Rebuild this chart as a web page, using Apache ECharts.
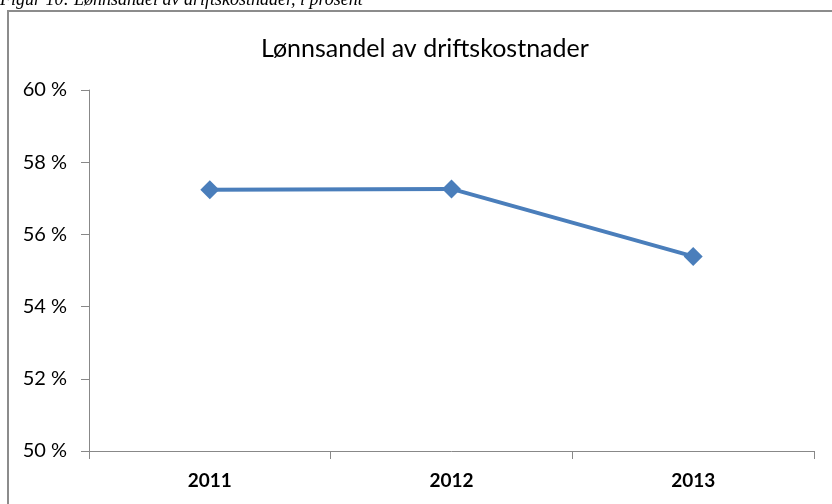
<!DOCTYPE html>
<html>
<head>
    <meta charset="utf-8">
    <title>Lønnsandel av driftskostnader</title>
    <script src="https://cdn.jsdelivr.net/npm/echarts@6/dist/echarts.min.js"></script>
    <style>
        body { margin: 0; background: #fff; }
    </style>
</head>
<body>
<div id="main" style="width: 832px;height:504px;"></div>
<script type="text/javascript">
    // data
    var years = ['2011', '2012', '2013'];
    var lonnsandel = [57.24, 57.26, 55.39];
    var yTicks = [50, 52, 54, 56, 58, 60];

    var myChart = echarts.init(document.getElementById('main'));

    var sans = 'Lato';

    var option = {
        backgroundColor: '#fff',
        animation: false,
        title: {
            text: 'Lønnsandel av driftskostnader',
            left: 256,
            top: 31,
            textStyle: {
                fontFamily: sans,
                fontWeight: 'normal',
                fontSize: 25,
                color: '#000'
            }
        },
        graphic: [
            {
                // caption above the box, cut off at the top edge
                type: 'text',
                left: 0,
                top: -9,
                style: {
                    text: 'Figur 10: Lønnsandel av driftskostnader, i prosent',
                    font: 'italic 18px "Liberation Serif"',
                    fill: '#000'
                }
            },
            {
                type: 'rect',
                shape: { x: 8, y: 11, width: 840, height: 520 },
                style: { fill: 'none', stroke: '#8c8c8c', lineWidth: 2 }
            }
        ],
        grid: {
            left: 89,
            right: 18,
            top: 90,
            bottom: 53
        },
        xAxis: {
            type: 'category',
            data: years,
            boundaryGap: true,
            axisLine: { lineStyle: { color: '#888', width: 1 } },
            axisTick: { show: true, length: 8, lineStyle: { color: '#888' } },
            axisLabel: {
                margin: 20,
                fontFamily: sans,
                fontWeight: 'bold',
                fontSize: 19,
                color: '#000'
            },
            splitLine: { show: false }
        },
        yAxis: {
            type: 'value',
            min: yTicks[0],
            max: yTicks[yTicks.length - 1],
            interval: 2,
            axisLine: { show: true, lineStyle: { color: '#888', width: 1 } },
            axisTick: { show: true, length: 8, lineStyle: { color: '#888' } },
            axisLabel: {
                margin: 22,
                fontFamily: sans,
                fontSize: 20,
                color: '#000',
                formatter: '{value} %'
            },
            splitLine: { show: false }
        },
        series: [
            {
                name: 'Lønnsandel',
                type: 'line',
                data: lonnsandel,
                symbol: 'diamond',
                symbolSize: 19,
                lineStyle: { color: '#4a7ebb', width: 4 },
                itemStyle: { color: '#4a7ebb' }
            }
        ]
    };

    myChart.setOption(option);
</script>
</body>
</html>
